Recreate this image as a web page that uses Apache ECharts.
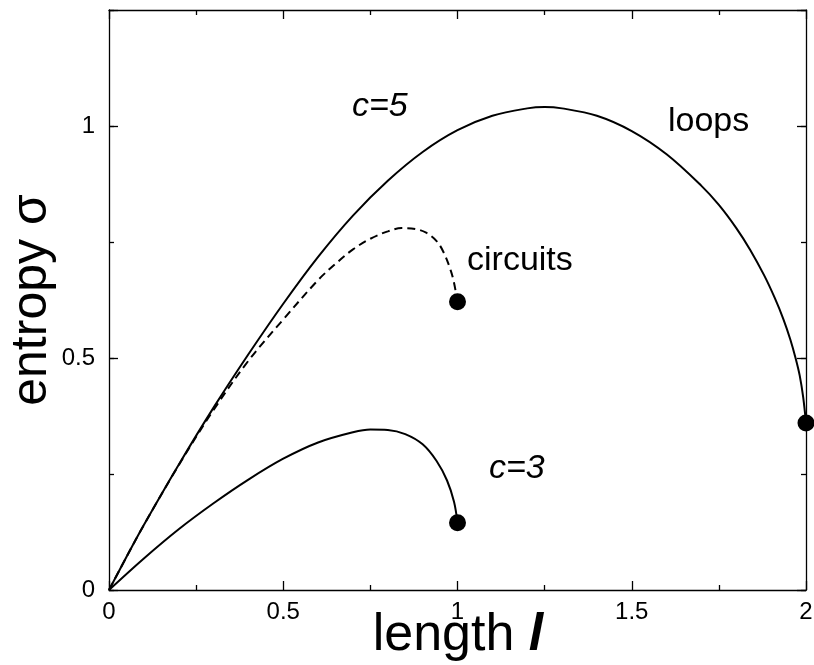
<!DOCTYPE html>
<html>
<head>
<meta charset="utf-8">
<script src="https://cdn.jsdelivr.net/npm/echarts@6/dist/echarts.min.js"></script>
<style>
  html, body { margin: 0; padding: 0; background: #fff; }
  #chart { width: 814px; height: 665px; }
</style>
</head>
<body>
<div id="chart"></div>
<script>
// Entropy of loops / circuits versus length (random regular graphs)
const loopsC5Length  = [0, 0.05, 0.1, 0.2, 0.3, 0.4, 0.5, 0.6, 0.7, 0.8, 0.9, 1.0, 1.1, 1.2, 1.25, 1.3, 1.4, 1.5, 1.6, 1.7, 1.75, 1.8, 1.84, 1.88, 1.91, 1.935, 1.955, 1.97, 1.982, 1.992, 2.0];
const loopsC5Entropy = [0, 0.071, 0.14, 0.27, 0.393, 0.508, 0.617, 0.718, 0.807, 0.882, 0.944, 0.991, 1.022, 1.038, 1.041, 1.038, 1.022, 0.989, 0.939, 0.871, 0.83, 0.78, 0.733, 0.678, 0.63, 0.584, 0.54, 0.5, 0.462, 0.415, 0.36];

const circuitsC5Length  = [0, 0.05, 0.1, 0.2, 0.3, 0.4, 0.5, 0.6, 0.65, 0.7, 0.75, 0.8, 0.84, 0.88, 0.91, 0.94, 0.96, 0.98, 0.99, 1.0];
const circuitsC5Entropy = [0, 0.071, 0.14, 0.269, 0.388, 0.494, 0.583, 0.668, 0.703, 0.734, 0.757, 0.773, 0.78, 0.778, 0.77, 0.752, 0.728, 0.69, 0.662, 0.621];

const c3Length  = [0, 0.1, 0.2, 0.3, 0.4, 0.5, 0.6, 0.7, 0.75, 0.8, 0.85, 0.9, 0.94, 0.97, 0.99, 1.0];
const c3Entropy = [0, 0.068, 0.131, 0.187, 0.238, 0.283, 0.318, 0.34, 0.346, 0.345, 0.336, 0.314, 0.278, 0.236, 0.19, 0.145];

const xTicks = [0, 0.5, 1, 1.5, 2];
const yTicks = [0, 0.5, 1];

const zip = (xs, ys) => xs.map((x, i) => [x, ys[i]]);
const last = (xs, ys) => [xs[xs.length - 1], ys[ys.length - 1]];
const endPoints = [
  last(circuitsC5Length, circuitsC5Entropy),
  last(loopsC5Length, loopsC5Entropy),
  last(c3Length, c3Entropy)
];

const FONT = 'Liberation Sans, Arial, Helvetica, sans-serif';
const black = '#000';

function fmtTick(v) {
  return String(+v.toFixed(2));
}

function xAxisCfg(pos, labels) {
  return {
    type: 'value', position: pos, min: 0, max: 2, interval: 0.5,
    axisLine: { show: true, onZero: false, lineStyle: { color: black, width: 1.3 } },
    axisTick: { show: true, inside: true, length: 9, lineStyle: { color: black, width: 1.3 } },
    minorTick: { show: true, splitNumber: 2, length: 5, lineStyle: { color: black, width: 1.3 } },
    splitLine: { show: false },
    axisLabel: labels ? {
      show: true, margin: 10, color: black, fontFamily: FONT, fontSize: 24,
      formatter: v => xTicks.indexOf(+v.toFixed(2)) >= 0 ? fmtTick(v) : ''
    } : { show: false }
  };
}

function yAxisCfg(pos, interval, tickLen, labels, line) {
  return {
    type: 'value', position: pos, min: 0, max: 1.25, interval: interval,
    axisLine: { show: line, onZero: false, lineStyle: { color: black, width: 1.3 } },
    axisTick: { show: true, inside: true, length: tickLen, lineStyle: { color: black, width: 1.3 } },
    splitLine: { show: false },
    axisLabel: labels ? {
      show: true, margin: 14, color: black, fontFamily: FONT, fontSize: 24,
      formatter: v => yTicks.indexOf(+v.toFixed(2)) >= 0 ? fmtTick(v) : ''
    } : { show: false },
    name: labels ? 'entropy σ' : '',
    nameLocation: 'middle', nameGap: 52, nameRotate: 90, nameMoveOverlap: false,
    nameTextStyle: { fontFamily: FONT, fontSize: 50, color: black }
  };
}

const chart = echarts.init(document.getElementById('chart'), null, { renderer: 'canvas' });

chart.setOption({
  animation: false,
  backgroundColor: '#fff',
  grid: { left: 109, right: 8, top: 10, bottom: 75, containLabel: false, outerBoundsMode: 'none' },
  xAxis: [xAxisCfg('bottom', true), xAxisCfg('top', false)],
  yAxis: [
    yAxisCfg('left', 0.25, 5, true, true),
    yAxisCfg('left', 0.5, 9, false, false),
    yAxisCfg('right', 0.25, 5, false, true),
    yAxisCfg('right', 0.5, 9, false, false)
  ],
  series: [
    {
      name: 'loops c=5', type: 'line', xAxisIndex: 0, yAxisIndex: 0,
      data: zip(loopsC5Length, loopsC5Entropy), showSymbol: false, smooth: 0.35,
      lineStyle: { color: black, width: 2 }
    },
    {
      name: 'circuits c=5', type: 'line', xAxisIndex: 0, yAxisIndex: 0,
      data: zip(circuitsC5Length, circuitsC5Entropy), showSymbol: false, smooth: 0.35,
      lineStyle: { color: black, width: 2, type: [8, 5] }
    },
    {
      name: 'c=3', type: 'line', xAxisIndex: 0, yAxisIndex: 0,
      data: zip(c3Length, c3Entropy), showSymbol: false, smooth: 0.35,
      lineStyle: { color: black, width: 2 }
    },
    {
      name: 'end points', type: 'scatter', xAxisIndex: 0, yAxisIndex: 0,
      data: endPoints, symbol: 'circle', symbolSize: 17, clip: false,
      itemStyle: { color: black, opacity: 1 }
    }
  ],
  graphic: [
    // x-axis title: "length" with a bold italic l
    {
      type: 'text', x: 458, y: 636,
      style: {
        text: '{n|length }{b|l}', align: 'center', verticalAlign: 'middle',
        rich: {
          n: { fontFamily: FONT, fontSize: 52, fill: black },
          b: { fontFamily: FONT, fontSize: 52, fill: black, fontWeight: 'bold', fontStyle: 'italic' }
        }
      }
    },
    { type: 'text', left: 352, top: 90, style: { text: 'c=5', font: 'italic 34px ' + FONT, fill: black } },
    { type: 'text', left: 668, top: 105, style: { text: 'loops', font: '34px ' + FONT, fill: black } },
    { type: 'text', left: 467, top: 244, style: { text: 'circuits', font: '34px ' + FONT, fill: black } },
    { type: 'text', left: 489, top: 452, style: { text: 'c=3', font: 'italic 34px ' + FONT, fill: black } }
  ]
});
</script>
</body>
</html>
